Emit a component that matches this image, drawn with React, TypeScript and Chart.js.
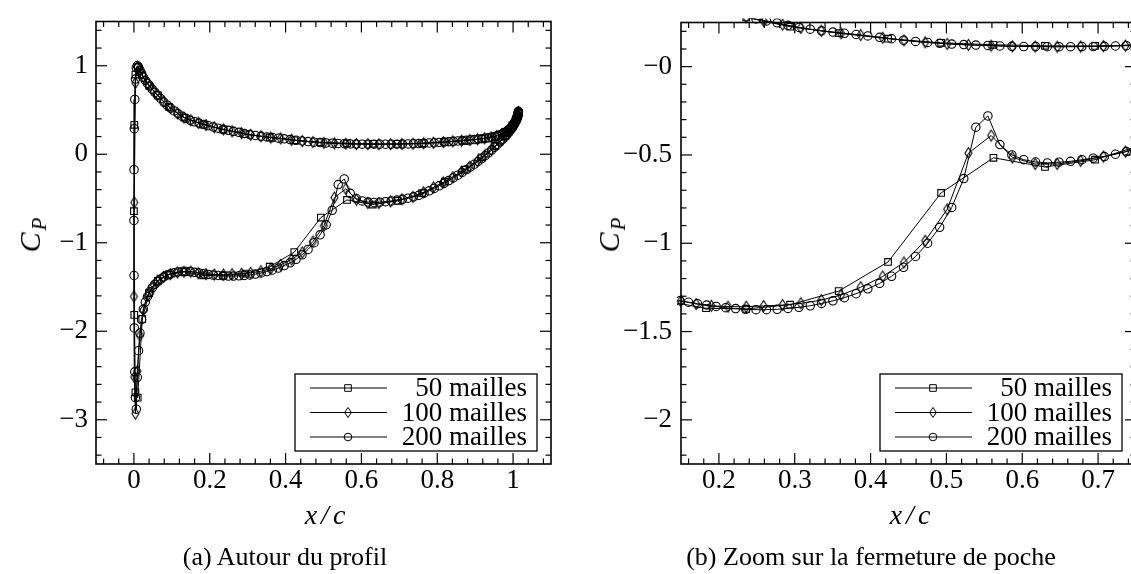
import React, { useEffect, useRef } from "react";
import { Chart, registerables } from "chart.js";

Chart.register(...registerables);

const FONT = "'Liberation Serif', serif";

// ---------- series ----------
const seriesLabels = ["50 mailles", "100 mailles", "200 mailles"];

// 50 mailles: x/c stations (leading edge -> trailing edge), Cp on both sides
const xGrid50 = [0, 0.001, 0.004, 0.01, 0.022, 0.04, 0.063, 0.092, 0.133, 0.183, 0.236, 0.294, 0.358, 0.423, 0.493, 0.562, 0.63, 0.696, 0.76, 0.82, 0.872, 0.917, 0.953, 0.98, 0.998, 1.009, 1.014];
const cpPressure50 = [-0.644, 0.333, 0.9, 0.985, 0.89, 0.775, 0.665, 0.535, 0.415, 0.336, 0.279, 0.226, 0.19, 0.158, 0.135, 0.124, 0.118, 0.117, 0.124, 0.138, 0.156, 0.175, 0.203, 0.252, 0.325, 0.405, 0.465];
const cpSuction50 = [-0.644, -1.815, -2.69, -2.75, -1.86, -1.57, -1.43, -1.36, -1.33, -1.368, -1.372, -1.348, -1.271, -1.106, -0.715, -0.516, -0.568, -0.527, -0.44, -0.31, -0.175, -0.035, 0.095, 0.21, 0.31, 0.4, 0.465];

// 100 mailles
const xGrid100 = [0, 0.001, 0.004, 0.009, 0.016, 0.025, 0.036, 0.048, 0.062, 0.078, 0.096, 0.115, 0.132, 0.15, 0.17, 0.19, 0.212, 0.236, 0.259, 0.284, 0.308, 0.335, 0.361, 0.387, 0.416, 0.444, 0.472, 0.501, 0.529, 0.559, 0.587, 0.617, 0.646, 0.677, 0.707, 0.736, 0.764, 0.79, 0.816, 0.841, 0.864, 0.886, 0.906, 0.925, 0.942, 0.957, 0.97, 0.981, 0.99, 0.998, 1.004, 1.009, 1.012, 1.014];
const cpPressure100 = [-1.607, -0.544, 0.807, 0.99, 0.945, 0.875, 0.8, 0.735, 0.668, 0.595, 0.522, 0.462, 0.415, 0.383, 0.356, 0.331, 0.305, 0.28, 0.259, 0.238, 0.219, 0.203, 0.189, 0.179, 0.164, 0.149, 0.138, 0.129, 0.123, 0.119, 0.115, 0.114, 0.113, 0.114, 0.116, 0.119, 0.124, 0.13, 0.137, 0.145, 0.153, 0.161, 0.169, 0.18, 0.191, 0.207, 0.228, 0.254, 0.283, 0.322, 0.36, 0.405, 0.44, 0.475];
const cpSuction100 = [-1.607, -2.519, -2.93, -2.45, -2.05, -1.76, -1.6, -1.5, -1.43, -1.385, -1.355, -1.335, -1.327, -1.326, -1.344, -1.354, -1.359, -1.359, -1.355, -1.35, -1.34, -1.322, -1.293, -1.249, -1.188, -1.109, -0.986, -0.808, -0.49, -0.39, -0.514, -0.551, -0.551, -0.533, -0.509, -0.481, -0.43, -0.375, -0.318, -0.26, -0.2, -0.14, -0.08, -0.015, 0.05, 0.108, 0.163, 0.212, 0.258, 0.305, 0.35, 0.395, 0.435, 0.475];

// 200 mailles
const xGrid200 = [
  0, 0.0003, 0.001, 0.0023, 0.004, 0.0062, 0.009, 0.0122, 0.0159, 0.0201,
  0.0248, 0.03, 0.0356, 0.0417, 0.0483, 0.0553, 0.0627, 0.0706, 0.0789, 0.0877,
  0.0968, 0.1064, 0.1163, 0.1267, 0.1374, 0.1485, 0.1599, 0.1717, 0.1838, 0.1963,
  0.209, 0.222, 0.2353, 0.2489, 0.2627, 0.2768, 0.2911, 0.3056, 0.3204, 0.3353,
  0.3503, 0.3655, 0.3809, 0.3964, 0.412, 0.4277, 0.4435, 0.4593, 0.4752, 0.4911,
  0.507, 0.5229, 0.5388, 0.5547, 0.5705, 0.5863, 0.602, 0.6176, 0.6331, 0.6485,
  0.6637, 0.6787, 0.6936, 0.7083, 0.7229, 0.7372, 0.7513, 0.7651, 0.7787, 0.792,
  0.805, 0.8177, 0.8302, 0.8423, 0.8541, 0.8655, 0.8766, 0.8873, 0.8977, 0.9076,
  0.9172, 0.9263, 0.9351, 0.9434, 0.9513, 0.9587, 0.9657, 0.9723, 0.9784, 0.984,
  0.9892, 0.9939, 0.9981, 1.0018, 1.005, 1.0077, 1.01, 1.0118, 1.013, 1.0137,
  1.014,
];
const cpPressure200 = [
  -0.748, -0.174, 0.289, 0.62, 0.85, 0.975, 1.0, 0.985, 0.95, 0.91,
  0.87, 0.835, 0.8, 0.77, 0.735, 0.7, 0.665, 0.63, 0.59, 0.555,
  0.522, 0.49, 0.46, 0.43, 0.405, 0.385, 0.367, 0.352, 0.337, 0.322,
  0.308, 0.295, 0.282, 0.27, 0.259, 0.248, 0.234, 0.222, 0.212, 0.203,
  0.196, 0.189, 0.182, 0.174, 0.166, 0.158, 0.15, 0.143, 0.137, 0.132,
  0.128, 0.125, 0.122, 0.12, 0.117, 0.115, 0.114, 0.114, 0.113, 0.113,
  0.113, 0.114, 0.114, 0.115, 0.117, 0.119, 0.121, 0.124, 0.127, 0.13,
  0.134, 0.138, 0.142, 0.146, 0.15, 0.154, 0.158, 0.162, 0.166, 0.17,
  0.175, 0.18, 0.186, 0.193, 0.2, 0.209, 0.22, 0.232, 0.246, 0.262,
  0.28, 0.3, 0.322, 0.345, 0.37, 0.393, 0.415, 0.435, 0.453, 0.468,
  0.485,
];
const cpSuction200 = [
  -0.748, -1.37, -1.963, -2.459, -2.75, -2.88, -2.52, -2.22, -2.02, -1.87,
  -1.75, -1.67, -1.61, -1.555, -1.51, -1.47, -1.44, -1.41, -1.385, -1.365,
  -1.35, -1.338, -1.33, -1.325, -1.324, -1.326, -1.334, -1.342, -1.35, -1.358,
  -1.365, -1.37, -1.374, -1.376, -1.376, -1.374, -1.369, -1.363, -1.354, -1.341,
  -1.326, -1.308, -1.286, -1.258, -1.227, -1.187, -1.136, -1.075, -1.0, -0.91,
  -0.797, -0.634, -0.343, -0.279, -0.441, -0.5, -0.527, -0.54, -0.545, -0.541,
  -0.536, -0.527, -0.518, -0.509, -0.496, -0.481, -0.464, -0.44, -0.413, -0.386,
  -0.357, -0.328, -0.298, -0.268, -0.237, -0.206, -0.175, -0.144, -0.113, -0.082,
  -0.05, -0.017, 0.015, 0.047, 0.079, 0.11, 0.14, 0.168, 0.195, 0.222,
  0.248, 0.274, 0.3, 0.325, 0.35, 0.373, 0.395, 0.415, 0.435, 0.455,
  0.47,
];

// ---------- axes ----------
const xMajorA = [0, 0.2, 0.4, 0.6, 0.8, 1];
const xLabelsA = ["0", "0.2", "0.4", "0.6", "0.8", "1"];
const xMinorA = [-0.08, -0.04, 0.04, 0.08, 0.12, 0.16, 0.24, 0.28, 0.32, 0.36, 0.44, 0.48, 0.52, 0.56, 0.64, 0.68, 0.72, 0.76, 0.84, 0.88, 0.92, 0.96, 1.04, 1.08];
const yMajorA = [-3, -2, -1, 0, 1];
const yLabelsA = ["\u22123", "\u22122", "\u22121", "0", "1"];
const yMinorA = [-3.4, -3.2, -2.8, -2.6, -2.4, -2.2, -1.8, -1.6, -1.4, -1.2, -0.8, -0.6, -0.4, -0.2, 0.2, 0.4, 0.6, 0.8, 1.2, 1.4];

const xMajorB = [0.2, 0.3, 0.4, 0.5, 0.6, 0.7];
const xLabelsB = ["0.2", "0.3", "0.4", "0.5", "0.6", "0.7"];
const xMinorB = [0.16, 0.18, 0.22, 0.24, 0.26, 0.28, 0.32, 0.34, 0.36, 0.38, 0.42, 0.44, 0.46, 0.48, 0.52, 0.54, 0.56, 0.58, 0.62, 0.64, 0.66, 0.68, 0.72, 0.74];
const yMajorB = [-2, -1.5, -1, -0.5, 0];
const yLabelsB = ["\u22122", "\u22121.5", "\u22121", "\u22120.5", "\u22120"];
const yMinorB = [-2.2, -2.1, -1.9, -1.8, -1.7, -1.6, -1.4, -1.3, -1.2, -1.1, -0.9, -0.8, -0.7, -0.6, -0.4, -0.3, -0.2, -0.1, 0.1, 0.2];

type Cfg = {
  xMin: number; xMax: number; yMin: number; yMax: number;
  xMajor: number[]; xLabels: string[]; xMinor: number[];
  yMajor: number[]; yLabels: string[]; yMinor: number[];
  yAxisWidth: number; padRight: number; yPad: number; clip: any;
};

const cfgA: Cfg = {
  xMin: -0.1, xMax: 1.1, yMin: -3.5, yMax: 1.5,
  xMajor: xMajorA, xLabels: xLabelsA, xMinor: xMinorA,
  yMajor: yMajorA, yLabels: yLabelsA, yMinor: yMinorA,
  yAxisWidth: 96, padRight: 19, yPad: 8, clip: false,
};
const cfgB: Cfg = {
  xMin: 0.15, xMax: 0.75, yMin: -2.25, yMax: 0.25,
  xMajor: xMajorB, xLabels: xLabelsB, xMinor: xMinorB,
  yMajor: yMajorB, yLabels: yLabelsB, yMinor: yMinorB,
  yAxisWidth: 111, padRight: 14, yPad: 9, clip: { left: 4, top: 4, right: 0, bottom: 0 },
};

function loop(xs: number[], pres: number[], suc: number[]) {
  const pts: { x: number; y: number }[] = [];
  for (let i = xs.length - 1; i >= 0; i--) pts.push({ x: xs[i], y: pres[i] });
  for (let i = 1; i < xs.length; i++) pts.push({ x: xs[i], y: suc[i] });
  return pts;
}

function makeDiamond(): HTMLCanvasElement {
  const c = document.createElement("canvas");
  c.width = 11; c.height = 14;
  const g = c.getContext("2d")!;
  g.strokeStyle = "#000"; g.lineWidth = 1.1;
  g.beginPath();
  g.moveTo(5.5, 1.5); g.lineTo(9, 7); g.lineTo(5.5, 12.5); g.lineTo(2, 7); g.closePath();
  g.stroke();
  return c;
}

function drawMarker(ctx: CanvasRenderingContext2D, k: number, x: number, y: number) {
  ctx.beginPath();
  if (k === 0) {
    ctx.rect(x - 3.3, y - 3.3, 6.6, 6.6);
  } else if (k === 1) {
    ctx.moveTo(x, y - 5); ctx.lineTo(x + 3.4, y); ctx.lineTo(x, y + 5); ctx.lineTo(x - 3.4, y); ctx.closePath();
  } else {
    ctx.arc(x, y, 3.8, 0, Math.PI * 2);
  }
  ctx.stroke();
}

function makePlugin(cfg: Cfg) {
  return {
    id: "frameTicks",
    afterDraw(chart: any) {
      const { ctx, chartArea: a, scales } = chart;
      const xs = scales.x, ys = scales.y;
      ctx.save();
      ctx.strokeStyle = "#000";
      ctx.lineWidth = 1.2;
      const seg = (x1: number, y1: number, x2: number, y2: number) => {
        ctx.beginPath(); ctx.moveTo(x1, y1); ctx.lineTo(x2, y2); ctx.stroke();
      };
      const xt = (v: number, len: number) => {
        const p = xs.getPixelForValue(v);
        seg(p, a.bottom, p, a.bottom - len);
        seg(p, a.top, p, a.top + len);
      };
      const yt = (v: number, len: number) => {
        const p = ys.getPixelForValue(v);
        seg(a.left, p, a.left + len, p);
        seg(a.right, p, a.right - len, p);
      };
      cfg.xMajor.forEach((v) => xt(v, 11));
      cfg.xMinor.forEach((v) => xt(v, 5.5));
      cfg.yMajor.forEach((v) => yt(v, 11));
      cfg.yMinor.forEach((v) => yt(v, 5.5));
      ctx.lineWidth = 1.6;
      ctx.strokeRect(a.left, a.top, a.right - a.left, a.bottom - a.top);

      // legend
      const bw = 242, bh = 77;
      const bx = a.right - 14 - bw, by = a.bottom - 13 - bh;
      ctx.fillStyle = "#fff";
      ctx.fillRect(bx, by, bw, bh);
      ctx.lineWidth = 1.3;
      ctx.strokeRect(bx, by, bw, bh);
      ctx.font = `27px ${FONT}`;
      ctx.textAlign = "right";
      ctx.textBaseline = "middle";
      ctx.fillStyle = "#000";
      seriesLabels.forEach((lab, k) => {
        const yy = by + 14 + k * 24.5;
        ctx.lineWidth = 1;
        seg(bx + 15, yy, bx + 92, yy);
        drawMarker(ctx, k, bx + 53, yy);
        ctx.fillText(lab, bx + 232, yy + 1);
      });
      ctx.restore();
    },
  };
}

function buildChart(canvas: HTMLCanvasElement, cfg: Cfg, diamond: HTMLCanvasElement) {
  const common = {
    showLine: true,
    borderColor: "#000",
    borderWidth: 1,
    pointBorderColor: "#000",
    pointBackgroundColor: "rgba(0,0,0,0)",
    pointBorderWidth: 1.1,
    clip: cfg.clip,
  };
  const tickFont = { family: FONT, size: 27, lineHeight: 1 };
  return new Chart(canvas, {
    type: "scatter",
    data: {
      datasets: [
        { ...common, label: seriesLabels[0], data: loop(xGrid50, cpPressure50, cpSuction50), pointStyle: "rect", pointRadius: 4.7 },
        { ...common, label: seriesLabels[1], data: loop(xGrid100, cpPressure100, cpSuction100), pointStyle: diamond as any, pointRadius: 5 },
        { ...common, label: seriesLabels[2], data: loop(xGrid200, cpPressure200, cpSuction200), pointStyle: "circle", pointRadius: 4.2 },
      ],
    },
    options: {
      animation: false,
      responsive: false,
      maintainAspectRatio: false,
      devicePixelRatio: 1,
      events: [],
      layout: { padding: { left: 0, top: 10, right: cfg.padRight, bottom: 0 } },
      plugins: { legend: { display: false }, tooltip: { enabled: false }, title: { display: false } },
      scales: {
        x: {
          type: "linear",
          position: "bottom",
          min: cfg.xMin,
          max: cfg.xMax,
          grid: { display: false, drawTicks: false },
          border: { display: false },
          afterBuildTicks: (s: any) => { s.ticks = cfg.xMajor.map((v) => ({ value: v })); },
          afterFit: (s: any) => { s.height = 110; },
          ticks: {
            autoSkip: false, maxRotation: 0, minRotation: 0, padding: 3,
            color: "#000", font: tickFont,
            callback: (_v: any, i: number) => cfg.xLabels[i],
          },
        },
        y: {
          type: "linear",
          position: "left",
          min: cfg.yMin,
          max: cfg.yMax,
          grid: { display: false, drawTicks: false },
          border: { display: false },
          afterBuildTicks: (s: any) => { s.ticks = cfg.yMajor.map((v) => ({ value: v })); },
          afterFit: (s: any) => { s.width = cfg.yAxisWidth; },
          ticks: {
            autoSkip: false, padding: cfg.yPad,
            color: "#000", font: tickFont,
            callback: (_v: any, i: number) => cfg.yLabels[i],
          },
        },
      },
    } as any,
    plugins: [makePlugin(cfg) as any],
  });
}

const textBase: React.CSSProperties = {
  position: "absolute",
  fontFamily: FONT,
  color: "#000",
  whiteSpace: "nowrap",
  lineHeight: 1,
};

function CpLabel({ x, y }: { x: number; y: number }) {
  return (
    <div style={{ ...textBase, left: x, top: y, fontSize: 30, fontStyle: "italic", transform: "translate(-50%, -50%) rotate(-90deg)" }}>
      C<span style={{ fontSize: 21, position: "relative", top: 6, marginLeft: 2 }}>P</span>
    </div>
  );
}

function XcLabel({ x, y }: { x: number; y: number }) {
  return (
    <div style={{ ...textBase, left: x, top: y, fontSize: 28, fontStyle: "italic", transform: "translate(-50%, -50%)" }}>
      x<span style={{ margin: "0 4px" }}>/</span>c
    </div>
  );
}

export default function App() {
  const refA = useRef<HTMLCanvasElement>(null);
  const refB = useRef<HTMLCanvasElement>(null);

  useEffect(() => {
    let alive = true;
    const diamond = makeDiamond();
    const a = buildChart(refA.current!, cfgA, diamond);
    const b = buildChart(refB.current!, cfgB, diamond);
    const fonts: any = (document as any).fonts;
    if (fonts && fonts.load) {
      Promise.all([
        fonts.load("27px 'Liberation Serif'"),
        fonts.load("italic 27px 'Liberation Serif'"),
      ]).then(() => {
        if (alive) { a.update(); b.update(); }
      }).catch(() => {});
    }
    return () => { alive = false; a.destroy(); b.destroy(); };
  }, []);

  return (
    <div style={{ position: "fixed", left: 0, top: 0, width: 1131, height: 574, overflow: "hidden", background: "#fff" }}>
      <canvas ref={refA} width={570} height={574} style={{ position: "absolute", left: 0, top: 0, width: 570, height: 574 }} />
      <canvas ref={refB} width={580} height={574} style={{ position: "absolute", left: 570, top: 0, width: 580, height: 574 }} />
      <CpLabel x={30} y={235} />
      <CpLabel x={609} y={235} />
      <XcLabel x={325} y={515} />
      <XcLabel x={910} y={515} />
      <div style={{ ...textBase, left: 285, top: 557, fontSize: 26, transform: "translate(-50%, -50%)" }}>(a) Autour du profil</div>
      <div style={{ ...textBase, left: 871, top: 557, fontSize: 26, transform: "translate(-50%, -50%)" }}>(b) Zoom sur la fermeture de poche</div>
    </div>
  );
}
